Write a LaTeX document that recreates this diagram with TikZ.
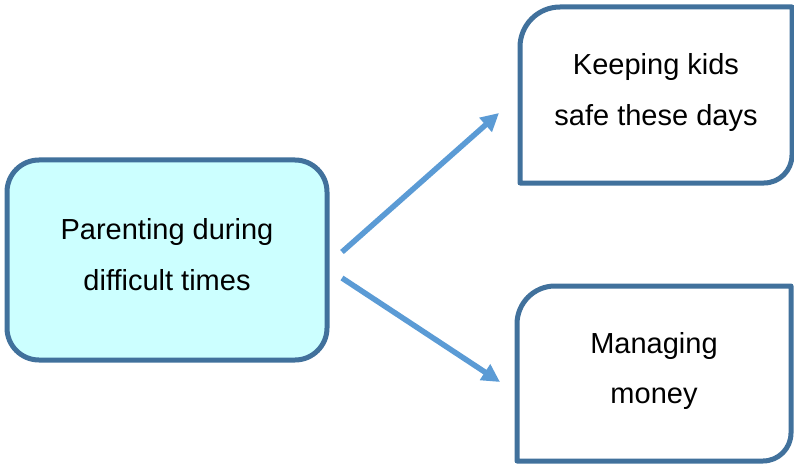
\documentclass[tikz,border=0pt]{standalone}
\usepackage{fontspec}
\setmainfont{Liberation Sans}
\usetikzlibrary{arrows.meta}
\definecolor{boxline}{HTML}{41719C}
\definecolor{boxfill}{HTML}{CCFFFF}
\definecolor{arrowblue}{HTML}{5B9BD5}
\tikzset{
  boxedge/.style={draw=boxline, line width=5pt, line join=round},
  label/.style={align=center, inner sep=0pt, font=\fontsize{29}{50.3}\selectfont},
  conn/.style={draw=arrowblue, line width=5.5pt, -{Triangle[length=18pt,width=18pt]}}
}
\begin{document}
\begin{tikzpicture}[x=1pt,y=-1pt]
\useasboundingbox (0,0) rectangle (794,465);
% left box
\draw[boxedge, fill=boxfill, rounded corners=32pt] (7,160) rectangle (327,360);
\node[label] (parent) at (167,254.5) {Parenting during\\difficult times};
% top right box
\draw[boxedge, fill=white] (520,183) -- (520,47) arc (180:270:40) -- (792,7) -- (792,155) arc (0:90:28) -- cycle;
\node[label] (safe) at (656,92.5) {Keeping kids\\safe these days};
% bottom right box
\draw[boxedge, fill=white] (517,461) -- (517,324) arc (180:270:38) -- (791,286) -- (791,433) arc (0:90:28) -- cycle;
\node[label] (money) at (654,370.8) {Managing\\money};
% connectors
\coordinate (a1s) at (342,252);
\coordinate (a1e) at (499,113);
\coordinate (a2s) at (342,278);
\coordinate (a2e) at (500,382);
\draw[conn] (a1s) -- (a1e);
\draw[conn] (a2s) -- (a2e);
\end{tikzpicture}
\end{document}
